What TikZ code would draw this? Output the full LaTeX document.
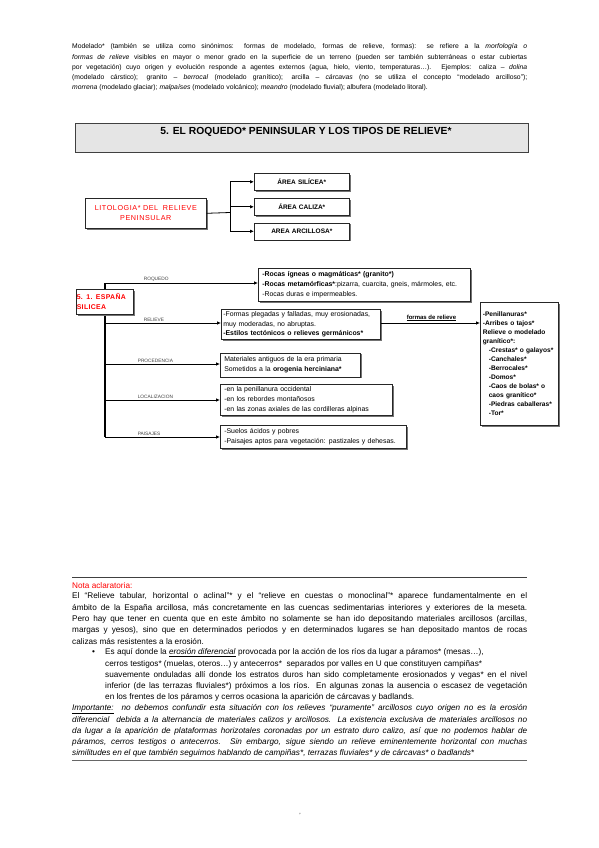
\documentclass[tikz,border=0pt]{standalone}
\usepackage{fontspec}
\setmainfont{Liberation Sans}
\usetikzlibrary{arrows.meta,shadows}
\tikzset{
  para/.style={anchor=west,inner sep=0pt,font=\fontsize{6.8}{8}\selectfont},
  nota/.style={anchor=west,inner sep=0pt,font=\fontsize{8.2}{9}\selectfont},
  notai/.style={nota,font=\itshape\fontsize{8.2}{9}\selectfont},
  box/.style={draw=black!85,line width=0.6pt,fill=white,
    drop shadow={shadow xshift=1.3pt,shadow yshift=-1.3pt,fill=black!55,opacity=1},
    anchor=north west,inner xsep=4pt,inner ysep=1pt,align=left},
  arr/.style={-{Latex[length=4pt,width=3.6pt]},line width=0.8pt},
  conn/.style={line width=0.8pt},
  lbl/.style={anchor=south west,inner sep=0.6pt,font=\fontsize{4.8}{5}\selectfont,text=black!75},
  bt/.style={font=\fontsize{6.9}{10}\selectfont},
}
\begin{document}
\begin{tikzpicture}[x=1pt,y=-1pt]
\useasboundingbox (0,0) rectangle (599,848);
\fill[white] (0,0) rectangle (599,848);

% top paragraph
\node[para] (p1) at (72,47) {\makebox[455pt][s]{Modelado* (también se utiliza como sinónimos: formas de modelado, formas de relieve, formas): se refiere a la \textit{morfología o}}};
\node[para] (p2) at (72,57.3) {\makebox[455pt][s]{\textit{formas de relieve} visibles en mayor o menor grado en la superficie de un terreno (pueden ser también subterráneas o estar cubiertas}};
\node[para] (p3) at (72,67.6) {\makebox[455pt][s]{por vegetación) cuyo origen y evolución responde a agentes externos (agua, hielo, viento, temperaturas…). Ejemplos: caliza – \textit{dolina}}};
\node[para] (p4) at (72,77.9) {\makebox[455pt][s]{(modelado cárstico); granito – \textit{berrocal} (modelado granítico); arcilla – \textit{cárcavas} (no se utiliza el concepto “modelado arcilloso”);}};
\node[para] (p5) at (72,88.2) {\textit{morrena} (modelado glaciar); \textit{malpaíses} (modelado volcánico); \textit{meandro} (modelado fluvial); albufera (modelado litoral).};

% title
\node[draw=black!75,line width=1pt,fill=black!10,anchor=north west,minimum width=453pt,minimum height=29pt,inner sep=0pt] (title) at (75,123) {};
\node[font=\bfseries\fontsize{10.3}{11}\selectfont,inner sep=0pt] (titletext) at (306,131.5) {5. EL ROQUEDO* PENINSULAR Y LOS TIPOS DE RELIEVE*};

% litologia
\node[box,minimum width=121pt,minimum height=30pt,text width=113pt,align=center,text=red,
  font=\fontsize{7.2}{10}\selectfont\addfontfeature{LetterSpace=8}] (lit) at (85,198) {LITOLOGIA* DEL \ RELIEVE\\PENINSULAR};
\node[box,minimum width=95pt,minimum height=17pt,text width=87pt,align=center,font=\bfseries\fontsize{6.5}{7}\selectfont] (sil) at (254,173) {ÁREA SILÍCEA*};
\node[box,minimum width=95pt,minimum height=17pt,text width=87pt,align=center,font=\bfseries\fontsize{6.5}{7}\selectfont] (cal) at (254,198) {ÁREA CALIZA*};
\node[box,minimum width=95pt,minimum height=17pt,text width=87pt,align=center,font=\bfseries\fontsize{6.5}{7}\selectfont] (arc) at (254,222.5) {AREA ARCILLOSA*};
\coordinate (j) at (230,212.5);
\draw[conn] (lit.east) -- (j);
\draw[conn] (j |- sil.west) -- (j |- arc.west);
\draw[arr] (j |- sil.west) -- (sil.west);
\draw[arr] (j |- cal.west) -- (cal.west);
\draw[arr] (j |- arc.west) -- (arc.west);

% 5.1 section
\coordinate (t1) at (105,283);
\coordinate (t2) at (105,323);
\coordinate (t3) at (105,364);
\coordinate (t4) at (105,400);
\coordinate (t5) at (105,437);
\draw[line width=1.2pt] (t1) -- (t5);

\node[box,minimum width=212pt,minimum height=33pt,text width=204pt,bt] (roq) at (258,268)
 {\textbf{-Rocas ígneas o magmáticas* (granito*)}\\\textbf{-Rocas metamórficas*}:pizarra, cuarcita, gneis, mármoles, etc.\\-Rocas duras e impermeables.};
\node[box,minimum width=159pt,minimum height=30pt,text width=155pt,inner xsep=2pt,font=\fontsize{6.9}{9.4}\selectfont] (rel) at (221,309)
 {-Formas plegadas y falladas, muy erosionadas,\\muy moderadas, no abruptas.\\\textbf{-Estilos tectónicos o relieves germánicos*}};
\node[box,minimum width=140pt,minimum height=24pt,text width=132pt,font=\fontsize{6.9}{9.6}\selectfont] (pro) at (220,352.5)
 {Materiales antiguos de la era primaria\\Sometidos a la \textbf{orogenia herciniana*}};
\node[box,minimum width=172pt,minimum height=31pt,text width=164pt,font=\fontsize{6.9}{9.6}\selectfont] (loc) at (220,384)
 {-en la penillanura occidental\\-en los rebordes montañosos\\-en las zonas axiales de las cordilleras alpinas};
\node[box,minimum width=186pt,minimum height=23pt,text width=178pt,font=\fontsize{6.9}{9.6}\selectfont] (pai) at (220,425)
 {-Suelos ácidos y pobres\\-Paisajes aptos para vegetación: pastizales y dehesas.};
\node[box,minimum width=78pt,minimum height=123pt,text width=73pt,inner xsep=2.5pt,font=\bfseries\fontsize{6.6}{9}\selectfont] (ger) at (480,302)
 {-Penillanuras*\\-Arribes o tajos*\\Relieve o modelado\\granítico*:\\\hspace*{6pt}-Crestas* o galayos*\\\hspace*{6pt}-Canchales*\\\hspace*{6pt}-Berrocales*\\\hspace*{6pt}-Domos*\\\hspace*{6pt}-Caos de bolas* o\\\hspace*{6pt}caos granítico*\\\hspace*{6pt}-Piedras caballeras*\\\hspace*{6pt}-Tor*};

\node[box,minimum width=57pt,minimum height=25pt,text width=56pt,inner xsep=0.5pt,text=red,
  font=\bfseries\fontsize{6.9}{10}\selectfont\addfontfeature{LetterSpace=5}] (esp) at (76,289) {5. 1. ESPAÑA\\SILICEA};

\draw[arr] (t1) -- (t1 -| roq.west);
\draw[arr] (t2) -- (t2 -| rel.west);
\draw[arr] (t3) -- (t3 -| pro.west);
\draw[arr] (t4) -- (t4 -| loc.west);
\draw[arr] (t5) -- (t5 -| pai.west);
\draw[arr] (rel.east |- t2) -- (ger.west |- t2);

\node[lbl] (lroq) at (143,282) {ROQUEDO};
\node[lbl] (lrel) at (143,322) {RELIEVE};
\node[lbl] (lpro) at (137,363) {PROCEDENCIA};
\node[lbl] (lloc) at (137,399) {LOCALIZACION};
\node[lbl] (lpai) at (137,436) {PAISAJES};
\node[anchor=south west,inner sep=0.6pt,font=\bfseries\fontsize{6}{6}\selectfont] (lfor) at (406,322) {\underline{formas de relieve}};

% nota
\draw[black!75,line width=0.8pt] (72,577) coordinate (nt1) -- (527,577) coordinate (nt2);
\node[nota,text=red] (n0) at (72,585.5) {Nota aclaratoria:};
\node[nota] (n1) at (72,596.7) {\makebox[455pt][s]{El “Relieve tabular, horizontal o aclinal”* y el “relieve en cuestas o monoclinal”* aparece fundamentalmente en el}};
\node[nota] (n2) at (72,607.9) {\makebox[455pt][s]{ámbito de la España arcillosa, más concretamente en las cuencas sedimentarias interiores y exteriores de la meseta.}};
\node[nota] (n3) at (72,619.1) {\makebox[455pt][s]{Pero hay que tener en cuenta que en este ámbito no solamente se han ido depositando materiales arcillosos (arcillas,}};
\node[nota] (n4) at (72,630.3) {\makebox[455pt][s]{margas y yesos), sino que en determinados periodos y en determinados lugares se han depositado mantos de rocas}};
\node[nota] (n5) at (72,641.5) {calizas más resistentes a la erosión.};
\node[nota] (nb) at (92,652.9) {•};
\node[nota] (n6) at (105,652.9) {Es aquí donde la \underline{\textit{erosión diferencial}} provocada por la acción de los ríos da lugar a páramos* (mesas…),};
\node[nota] (n7) at (105,664.1) {cerros testigos* (muelas, oteros…) y antecerros* \ separados por valles en U que constituyen campiñas*};
\node[nota] (n8) at (105,675.3) {\makebox[422pt][s]{suavemente onduladas allí donde los estratos duros han sido completamente erosionados y vegas* en el nivel}};
\node[nota] (n9) at (105,686.5) {\makebox[422pt][s]{inferior (de las terrazas fluviales*) próximos a los ríos. En algunas zonas la ausencia o escasez de vegetación}};
\node[nota] (n10) at (105,697.7) {en los frentes de los páramos y cerros ocasiona la aparición de cárcavas y badlands.};
\node[notai] (n11) at (72,708.9) {\makebox[455pt][s]{\underline{Importante:} \ no debemos confundir esta situación con los relieves “puramente” arcillosos cuyo origen no es la erosión}};
\node[notai] (n12) at (72,720.1) {\makebox[455pt][s]{diferencial \ debida a la alternancia de materiales calizos y arcillosos. La existencia exclusiva de materiales arcillosos no}};
\node[notai] (n13) at (72,731.3) {\makebox[455pt][s]{da lugar a la aparición de plataformas horizotales coronadas por un estrato duro calizo, así que no podemos hablar de}};
\node[notai] (n14) at (72,742.5) {\makebox[455pt][s]{páramos, cerros testigos o antecerros. Sin embargo, sigue siendo un relieve eminentemente horizontal con muchas}};
\node[notai] (n15) at (72,753.7) {similitudes en el que también seguimos hablando de campiñas*, terrazas fluviales* y de cárcavas* o badlands*};
\draw[black!60,line width=0.8pt] (72,760) coordinate (nb1) -- (527,760) coordinate (nb2);

\node[font=\fontsize{6}{6}\selectfont,inner sep=0pt] (pg) at (300,815) {’};
\end{tikzpicture}
\end{document}
